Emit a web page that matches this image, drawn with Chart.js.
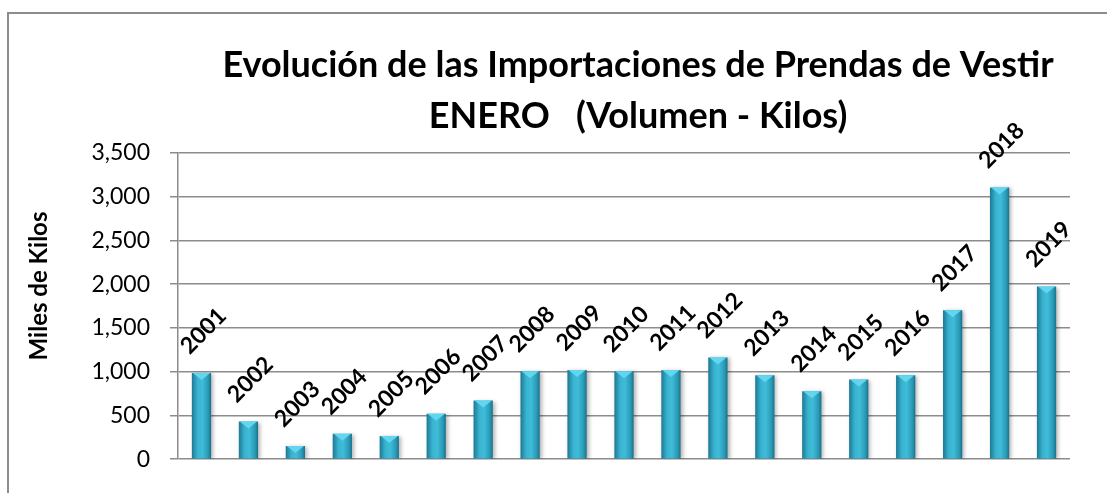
<!DOCTYPE html>
<html>
<head>
<meta charset="utf-8">
<script src="https://cdn.jsdelivr.net/npm/chart.js@4.4.1/dist/chart.umd.min.js"></script>
<style>
    html, body { margin: 0; padding: 0; background: #fff; }
    #wrap { position: relative; width: 1107px; height: 493px; }
    #frame { position: absolute; left: 7px; top: 12px; width: 1200px; height: 600px; border: 2px solid #8c8c8c; box-sizing: border-box; }
    #chart { position: absolute; left: 0; top: 0; }
</style>
</head>
<body>
<div id="wrap">
    <div id="frame"></div>
    <canvas id="chart" width="1107" height="493"></canvas>
</div>
<script>
'use strict';
// datos (miles de kilos)
const years = ['2001', '2002', '2003', '2004', '2005', '2006', '2007', '2008', '2009', '2010',
    '2011', '2012', '2013', '2014', '2015', '2016', '2017', '2018', '2019'];
const kilos = [985, 430, 150, 290, 265, 520, 670, 1005, 1020, 1005,
    1020, 1163, 960, 778, 910, 960, 1702, 3106, 1974];
const titleLines = ['Evolución de las Importaciones de Prendas de Vestir', 'ENERO   (Volumen - Kilos)'];
const yTitle = 'Miles de Kilos';

const FONT = 'Lato, "Open Sans", sans-serif';

// gradiente de cada barra + sombra, etiquetas y titulos
const barLook = {
    id: 'barLook',
    beforeDatasetsDraw(chart) {
        let ctx = chart.ctx;
        let meta = chart.getDatasetMeta(0);
        meta.data.forEach(function (bar) {
            let w = bar.width;
            let g = ctx.createLinearGradient(bar.x - w / 2, 0, bar.x + w / 2, 0);
            g.addColorStop(0, '#1e7893');
            g.addColorStop(0.3, '#38b3d0');
            g.addColorStop(0.55, '#40bcd9');
            g.addColorStop(0.85, '#2899b5');
            g.addColorStop(1, '#1b6f88');
            bar.options.backgroundColor = g;
        });
        ctx.save();
        ctx.shadowColor = 'rgba(0,0,0,0.3)';
        ctx.shadowBlur = 4;
        ctx.shadowOffsetX = 2;
        ctx.shadowOffsetY = 1;
    },
    afterDatasetsDraw(chart) {
        let ctx = chart.ctx;
        ctx.restore();
        let meta = chart.getDatasetMeta(0);
        ctx.save();
        meta.data.forEach(function (bar, i) {
            // triangulo claro arriba
            let w = bar.width;
            ctx.fillStyle = '#62d5ef';
            ctx.beginPath();
            ctx.moveTo(bar.x - w / 2 + 1, bar.y);
            ctx.lineTo(bar.x + w / 2 - 1, bar.y);
            ctx.lineTo(bar.x, bar.y + 7);
            ctx.closePath();
            ctx.fill();
            // etiqueta del año
            ctx.save();
            ctx.translate(bar.x + 2, bar.y - 42);
            ctx.rotate(-Math.PI / 4);
            ctx.font = 'bold 23px ' + FONT;
            ctx.fillStyle = '#000';
            ctx.textAlign = 'center';
            ctx.textBaseline = 'middle';
            ctx.fillText(years[i], 0, 0);
            ctx.restore();
        });
        ctx.restore();
    },
    afterDraw(chart) {
        let ctx = chart.ctx;
        ctx.save();
        ctx.font = 'bold 36px ' + FONT;
        ctx.fillStyle = '#000';
        ctx.textAlign = 'center';
        ctx.textBaseline = 'alphabetic';
        ctx.fillText(titleLines[0], 638, 77);
        ctx.fillText(titleLines[1], 638, 128);
        // titulo eje Y
        ctx.translate(39, 286);
        ctx.rotate(-Math.PI / 2);
        ctx.font = 'bold 24px ' + FONT;
        ctx.textBaseline = 'middle';
        ctx.fillText(yTitle, 0, 0);
        ctx.restore();
    }
};

let ctx = document.getElementById('chart');
let barGraph = new Chart(ctx, {
    type: 'bar',
    data: {
        labels: years,
        datasets: [
            {
                label: 'Kilos',
                data: kilos,
                backgroundColor: function () { return '#2aa0bf'; },
                borderWidth: 0,
                barPercentage: 0.41,
                categoryPercentage: 1
            }
        ]
    },
    options: {
        responsive: false,
        animation: false,
        layout: { padding: { left: 21, right: 37, top: 153, bottom: 31 } },
        plugins: {
            legend: { display: false },
            title: { display: false },
            tooltip: { enabled: false }
        },
        scales: {
            x: {
                display: false,
                grid: { display: false }
            },
            y: {
                min: 0,
                max: 3500,
                afterFit: function (scale) { scale.width = 157; },
                ticks: {
                    stepSize: 500,
                    padding: 20,
                    color: '#000',
                    font: { family: FONT, size: 23 },
                    callback: function (v) { return v.toLocaleString('en-US'); }
                },
                grid: { color: '#8c8c8c', lineWidth: 1.5, tickLength: 8 },
                border: { color: '#8c8c8c', width: 1.5 }
            }
        }
    },
    plugins: [barLook]
});
</script>
</body>
</html>
